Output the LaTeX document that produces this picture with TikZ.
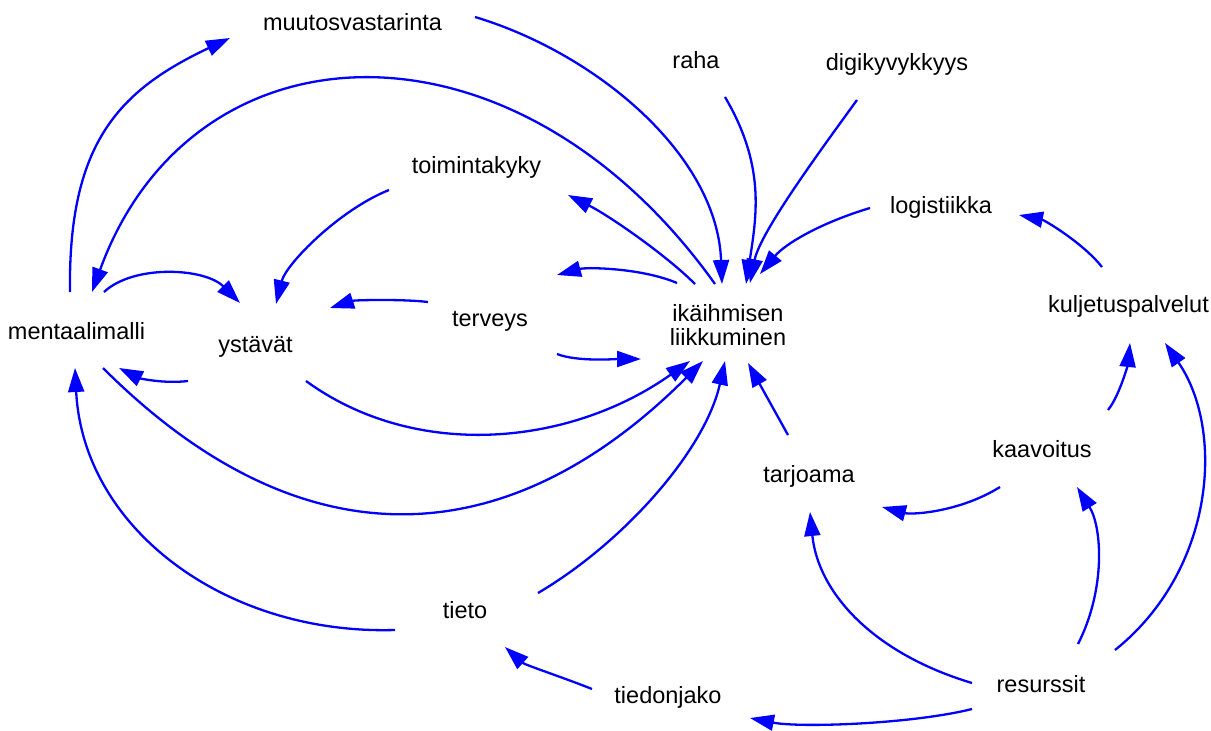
\documentclass[tikz,border=0pt]{standalone}
\usepackage{fontspec}
\setmainfont{Liberation Sans}
\usetikzlibrary{arrows.meta,calc}
\begin{document}
\begin{tikzpicture}[x=1pt,y=-1pt,
  lbl/.style={inner sep=0pt, font=\fontsize{23.5}{24}\selectfont},
  link/.style={draw=blue, line width=2.3pt, -{Triangle[length=24pt,width=16pt]}}]
\path[use as bounding box] (0,0) rectangle (1211,731);

% variables
\node[lbl, anchor=base] (mv)    at (352.5,30)  {muutosvastarinta};
\node[lbl, anchor=base] (raha)  at (696,68)    {raha};
\node[lbl, anchor=base] (digi)  at (897,70)    {digikyvykkyys};
\node[lbl, anchor=base] (tk)    at (476.5,173) {toimintakyky};
\node[lbl, anchor=base] (log)   at (941,213)   {logistiikka};
\node[lbl, anchor=base] (mm)    at (76.5,339)  {mentaalimalli};
\node[lbl, anchor=base] (yst)   at (255.5,352) {ystävät};
\node[lbl, anchor=base] (terv)  at (490,326)   {terveys};
\node[lbl, align=center] (ik)   at (728,325)   {ikäihmisen\\liikkuminen};
\node[lbl, anchor=base] (kulj)  at (1128.5,312){kuljetuspalvelut};
\node[lbl, anchor=base] (kaav)  at (1042,457)  {kaavoitus};
\node[lbl, anchor=base] (tarj)  at (809,482)   {tarjoama};
\node[lbl, anchor=base] (tieto) at (465,618)   {tieto};
\node[lbl, anchor=base] (tj)    at (668,703)   {tiedonjako};
\node[lbl, anchor=base] (res)   at (1041,692)  {resurssit};

% causal links
\draw[link] ($(mm.base)+(-6.5,-47)$) .. controls +(-2,-150) and +(-110,52) .. ($(mv.base)+(-122.5,8)$);
\draw[link] ($(mv.base)+(122.5,-13)$) .. controls +(120,36) and +(-5,-130) .. ($(ik)+(-6,-41)$);
\draw[link] ($(ik)+(-13,-41)$) .. controls +(-200,-280) and +(100,-275) .. ($(mm.base)+(15.5,-47)$);
\draw[link] ($(raha.base)+(29,29)$) .. controls +(40,68) and +(11,-70) .. ($(ik)+(18,-41)$);
\draw[link] ($(digi.base)+(-40,30)$) .. controls +(-40,55) and +(10,-50) .. ($(ik)+(22,-42)$);
\draw[link] ($(log.base)+(-71,-5)$) .. controls +(-50,15) and +(25,-30) .. ($(ik)+(32,-51)$);
\draw[link] ($(ik)+(-33,-41)$) .. controls +(-30,-30) and +(40,20) .. ($(tk.base)+(91.5,22)$);
\draw[link] ($(ik)+(-51,-42)$) .. controls +(-35,-15) and +(30,-8) .. ($(terv.base)+(67,-51)$);
\draw[link] ($(terv.base)+(67,28)$) .. controls +(20,8) and +(-25,0) .. ($(ik)+(-87,34)$);
\draw[link] ($(terv.base)+(-62,-24)$) .. controls +(-25,-3) and +(25,-8) .. ($(yst.base)+(74.5,-44)$);
\draw[link] ($(tk.base)+(-87.5,17)$) .. controls +(-50,20) and +(10,-40) .. ($(yst.base)+(20.5,-48)$);
\draw[link] ($(mm.base)+(27.5,-47)$) .. controls +(30,-28) and +(-35,-35) .. ($(yst.base)+(-15.5,-49)$);
\draw[link] ($(yst.base)+(-67.5,29)$) .. controls +(-25,3) and +(20,10) .. ($(mm.base)+(42.5,29)$);
\draw[link] ($(yst.base)+(50.5,29)$) .. controls +(110,80) and +(-120,85) .. ($(ik)+(-38,36)$);
\draw[link] ($(mm.base)+(26.5,29)$) .. controls +(197,197) and +(-197,197) .. ($(ik)+(-25,36)$);
\draw[link] ($(tieto.base)+(-70,12)$) .. controls +(-170,5) and +(8,160) .. ($(mm.base)+(-1.5,29)$);
\draw[link] ($(tieto.base)+(73,-25)$) .. controls +(85,-50) and +(-20,90) .. ($(ik)+(-3,36)$);
\draw[link] ($(tarj.base)+(-21,-47)$) -- ($(ik)+(20,38)$);
\draw[link] ($(kulj.base)+(-26.5,-45)$) .. controls +(-20,-25) and +(25,5) .. ($(log.base)+(78,2)$);
\draw[link] ($(kaav.base)+(66,-47)$) .. controls +(12,-15) and +(-2,20) .. ($(kulj.base)+(1.5,31)$);
\draw[link] ($(res.base)+(74,-42)$) .. controls +(100,-80) and +(60,87) .. ($(kulj.base)+(36.5,31)$);
\draw[link] ($(res.base)+(37,-48)$) .. controls +(28,-55) and +(25,40) .. ($(kaav.base)+(35,30)$);
\draw[link] ($(kaav.base)+(-42,30)$) .. controls +(-40,25) and +(30,8) .. ($(tarj.base)+(73,25)$);
\draw[link] ($(res.base)+(-69,-9)$) .. controls +(-100,-30) and +(8,80) .. ($(tarj.base)+(1,30)$);
\draw[link] ($(res.base)+(-69,17)$) .. controls +(-60,15) and +(50,10) .. ($(tj.base)+(82,15)$);
\draw[link] ($(tj.base)+(-76,-14)$) .. controls +(-30,-12) and +(20,18) .. ($(tieto.base)+(40,29)$);
\end{tikzpicture}
\end{document}
